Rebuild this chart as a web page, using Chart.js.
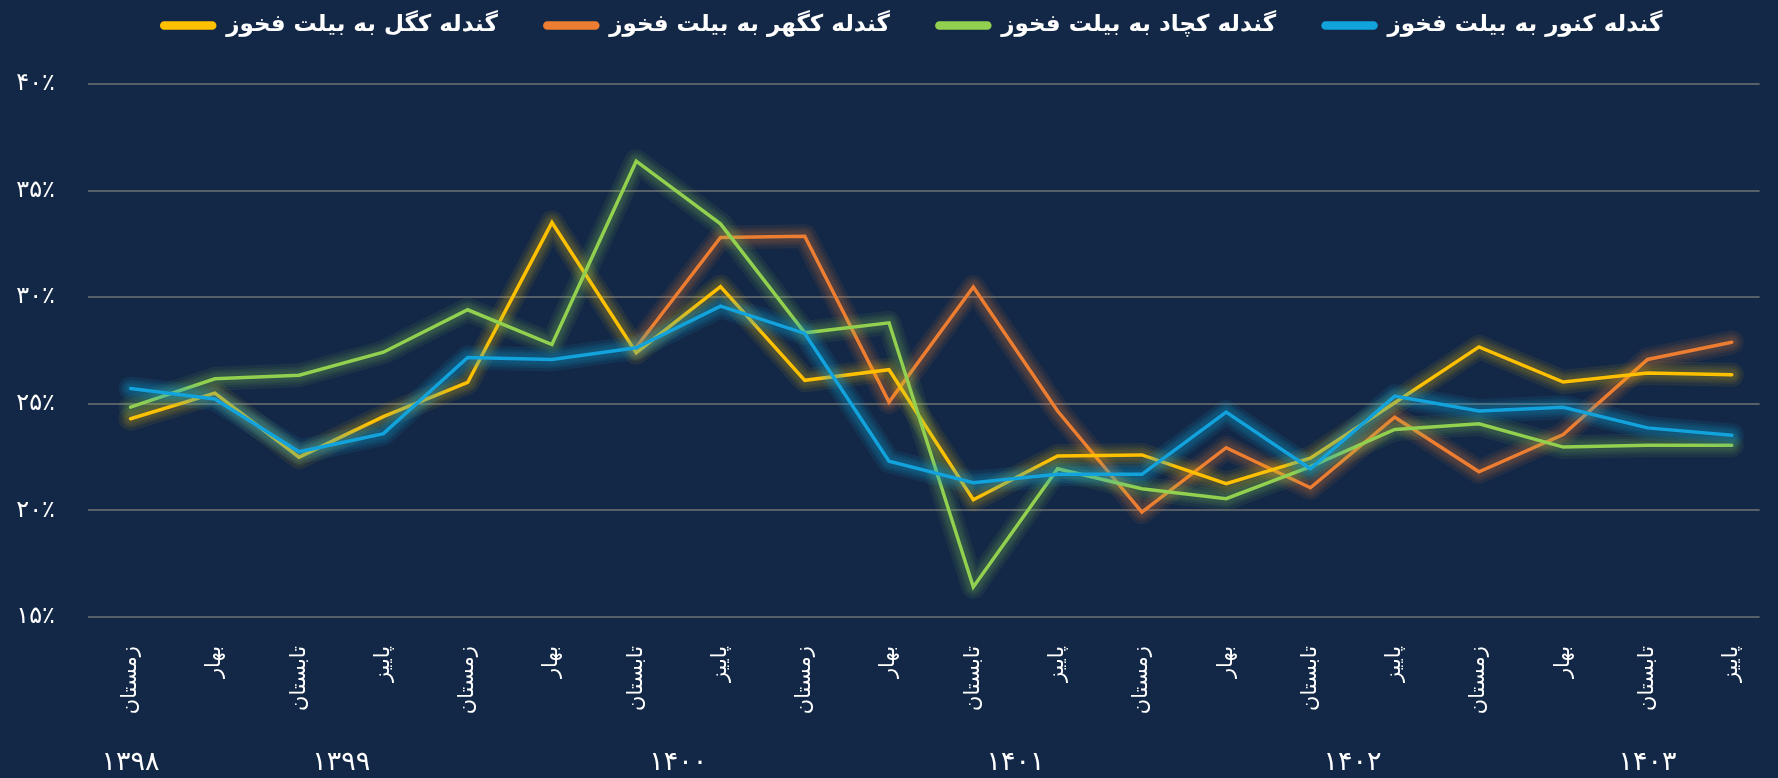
<!DOCTYPE html>
<html lang="fa">
<head>
<meta charset="utf-8">
<title>گندله به بیلت فخوز</title>
<script src="https://cdn.jsdelivr.net/npm/chart.js@4.4.1/dist/chart.umd.min.js"></script>
<style>
  html, body { margin: 0; padding: 0; background: #132846; }
  #wrap { width: 1778px; height: 778px; }
</style>
</head>
<body>
<div id="wrap"><canvas id="myChart"></canvas></div>
<script>
// seasons (x categories) and year groups
const seasons = ['زمستان', 'بهار', 'تابستان', 'پاییز', 'زمستان', 'بهار', 'تابستان', 'پاییز',
  'زمستان', 'بهار', 'تابستان', 'پاییز', 'زمستان', 'بهار', 'تابستان', 'پاییز',
  'زمستان', 'بهار', 'تابستان', 'پاییز'];
const years = ['۱۳۹۸', '۱۳۹۹', '۱۴۰۰', '۱۴۰۱', '۱۴۰۲', '۱۴۰۳'];
const yearCenters = [0, 2.5, 6.5, 10.5, 14.5, 18];

// ratios in percent
const kagol = [24.3, 25.5, 22.5, 24.4, 26.0, 33.5, 27.4, 30.5, 26.1, 26.6,
  20.5, 22.55, 22.6, 21.25, 22.45, 25.05, 27.67, 26.02, 26.45, 26.36];
const kagohar = [null, null, null, null, null, null, 27.65, 32.8, 32.86, 25.08,
  30.48, 24.66, 19.92, 22.94, 21.06, 24.37, 21.81, 23.56, 27.08, 27.89];
const kachad = [24.84, 26.17, 26.34, 27.42, 29.41, 27.78, 36.38, 33.44, 28.33, 28.8,
  16.41, 21.95, 21.02, 20.55, 22.05, 23.8, 24.06, 22.97, 23.05, 23.06];
const konvar = [25.72, 25.23, 22.75, 23.6, 27.17, 27.08, 27.63, 29.58, 28.3, 22.31,
  21.3, 21.69, 21.69, 24.61, 21.95, 25.36, 24.66, 24.84, 23.87, 23.52];

const yTicks = [15, 20, 25, 30, 35, 40];

const faDigits = (n) => String(n).replace(/\d/g, d => '۰۱۲۳۴۵۶۷۸۹'[d]);
const toPoints = (arr) => arr.map((v, i) => ({x: i, y: v}));

// soft glow under each line: wide faint strokes along the points the chart placed
const glow = {
  id: 'glow',
  beforeDatasetDraw(chart, args) {
    const ds = chart.data.datasets[args.index];
    const pts = args.meta.data;
    const ctx = chart.ctx;
    ctx.save();
    ctx.lineJoin = 'round';
    ctx.lineCap = 'round';
    ctx.strokeStyle = ds.glowColor;
    [24, 18, 14, 10].forEach(w => {
      ctx.lineWidth = w;
      ctx.beginPath();
      let open = false;
      pts.forEach(p => {
        if (p.skip) { open = false; return; }
        if (!open) { ctx.moveTo(p.x, p.y); open = true; } else { ctx.lineTo(p.x, p.y); }
      });
      ctx.stroke();
    });
    ctx.restore();
  }
};

function line(label, values, color, glowColor, order) {
  return {
    label: label,
    data: toPoints(values),
    borderColor: color,
    backgroundColor: color,
    glowColor: glowColor,
    borderWidth: 3.5,
    borderCapStyle: 'round',
    borderJoinStyle: 'miter',
    pointRadius: 0,
    tension: 0,
    order: order
  };
}

// legend: wide gaps between items but short block height, nudged right a bit
const legendTop = -33;
const legendFit = {
  id: 'legendFit',
  beforeLayout(chart) {
    const lg = chart.legend;
    if (lg && !lg._fitWrapped) {
      const fit = lg.fit.bind(lg);
      lg.fit = function () { fit(); this.height = 84 - legendTop; };
      lg._fitWrapped = true;
    }
  },
  afterLayout(chart) {
    chart.legend.left += 23;
    chart.legend.right += 23;
  }
};

const white = '#ffffff';
const font = 'DejaVu Sans';

new Chart(document.getElementById('myChart'), {
  type: 'line',
  data: {
    datasets: [
      line('گندله کگل به بیلت فخوز', kagol, '#ffc000', 'rgba(255,192,0,0.07)', 2),
      line('گندله کگهر به بیلت فخوز', kagohar, '#ed7d31', 'rgba(237,125,49,0.08)', 3),
      line('گندله کچاد به بیلت فخوز', kachad, '#92d050', 'rgba(146,208,80,0.07)', 1),
      line('گندله کنور به بیلت فخوز', konvar, '#12a2dc', 'rgba(18,162,220,0.1)', 0)
    ]
  },
  options: {
    responsive: true,
    maintainAspectRatio: false,
    animation: false,
    layout: { padding: { top: legendTop, right: 0, left: 0, bottom: 0 } },
    plugins: {
      tooltip: { enabled: false },
      legend: {
        position: 'top',
        labels: {
          color: white,
          font: { family: font, size: 23, weight: 'bold' },
          boxWidth: 53,
          boxHeight: 5,
          useBorderRadius: true,
          borderRadius: 2.5,
          padding: 47,
          sort: (a, b) => a.datasetIndex - b.datasetIndex
        }
      }
    },
    scales: {
      x: {
        type: 'linear',
        min: -0.505,
        max: 19.33,
        grid: { display: false },
        border: { display: false },
        afterBuildTicks: (axis) => { axis.ticks = seasons.map((s, i) => ({value: i})); },
        afterFit: (axis) => { axis.height = 100; },
        ticks: {
          autoSkip: false,
          minRotation: 90,
          maxRotation: 90,
          padding: 21,
          color: white,
          font: { family: font, size: 21 },
          callback: (v) => seasons[v]
        }
      },
      x2: {
        type: 'linear',
        position: 'bottom',
        min: -0.505,
        max: 19.33,
        grid: { display: false },
        border: { display: false },
        afterBuildTicks: (axis) => { axis.ticks = yearCenters.map(v => ({value: v})); },
        afterFit: (axis) => { axis.height = 61; },
        ticks: {
          autoSkip: false,
          maxRotation: 0,
          padding: 22,
          color: white,
          font: { family: font, size: 27 },
          callback: (v, i) => years[i]
        }
      },
      y: {
        min: 15,
        max: 40,
        grid: { color: 'rgba(125,125,125,0.65)', lineWidth: 2, drawTicks: false },
        border: { display: false },
        afterBuildTicks: (axis) => { axis.ticks = yTicks.map(v => ({value: v})); },
        afterFit: (axis) => { axis.width = 88; },
        ticks: {
          padding: 33,
          color: white,
          font: { family: font, size: 24 },
          callback: (v) => faDigits(v) + '٪'
        }
      }
    }
  },
  plugins: [glow, legendFit]
});
</script>
</body>
</html>
